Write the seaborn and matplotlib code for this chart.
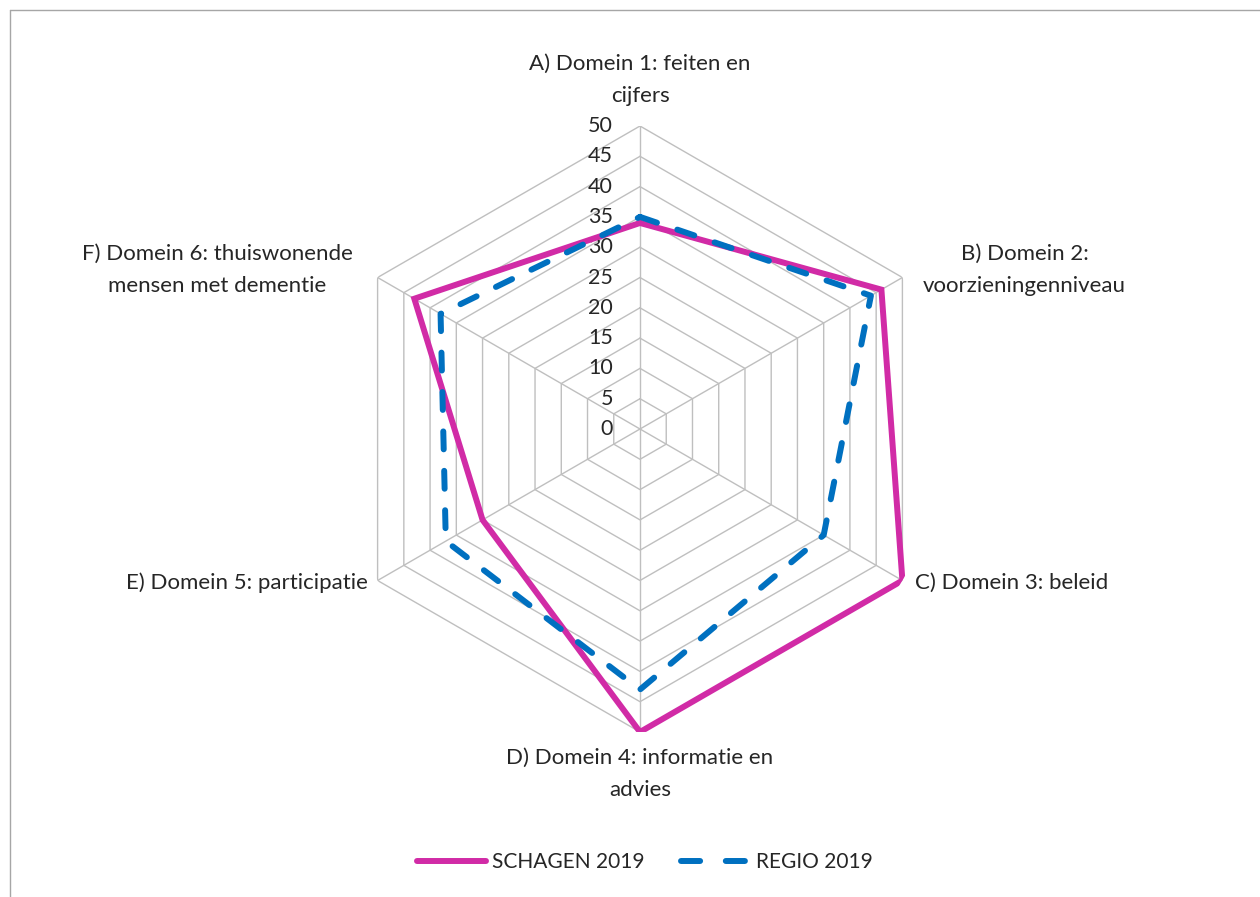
import numpy as np
import pandas as pd
import matplotlib
matplotlib.use("Agg")
import matplotlib.pyplot as plt
from matplotlib.lines import Line2D
import seaborn as sns

# ---- data ----
categories = [
    "A) Domein 1: feiten en\ncijfers",
    "B) Domein 2:\nvoorzieningenniveau",
    "C) Domein 3: beleid",
    "D) Domein 4: informatie en\nadvies",
    "E) Domein 5: participatie",
    "F) Domein 6: thuiswonende\nmensen met dementie",
]
schagen_2019 = [34, 46, 50, 50, 30, 43]
regio_2019 = [35, 44, 35, 43, 37, 38]
radial_ticks = [0, 5, 10, 15, 20, 25, 30, 35, 40, 45, 50]
series_names = ["SCHAGEN 2019", "REGIO 2019"]

PURPLE = "#D12BA6"
BLUE = "#0070C0"
GRID = "#BFBFBF"
TEXT = "#262626"

sns.set_theme(style="white")
plt.rcParams["font.family"] = ["Lato", "DejaVu Sans"]

W, H = 1260, 897
fig = plt.figure(figsize=(W / 100, H / 100), dpi=100)

# frame lines (left and top, as in reference)
fig.add_artist(Line2D([10 / W, 10 / W], [0, 1 - 10 / H], color="#A6A6A6", lw=1))
fig.add_artist(Line2D([10 / W, 1], [1 - 10 / H, 1 - 10 / H], color="#A6A6A6", lw=1))

cx, cy, R = 640, 429, 303
ax = fig.add_axes([(cx - R) / W, (H - cy - R) / H, 2 * R / W, 2 * R / H], projection="polar")
ax.set_theta_zero_location("N")
ax.set_theta_direction(-1)
ax.set_ylim(0, 50)
ax.grid(False)
ax.spines["polar"].set_visible(False)
ax.set_xticks([])
ax.set_yticks([])
ax.patch.set_alpha(0)

n = len(categories)
angles = list(np.arange(n) * 2 * np.pi / n)
closed = angles + [2 * np.pi]

# hexagonal grid
for t in radial_ticks[1:]:
    ax.plot(closed, [t] * (n + 1), color=GRID, lw=1, zorder=1)
for a in angles:
    ax.plot([a, a], [0, 50], color=GRID, lw=1, zorder=1)

# radial tick labels
for t in radial_ticks:
    ax.annotate(str(t), xy=(0, t), xytext=(-27, 0), textcoords="offset pixels",
                ha="right", va="center", fontsize=15.5, color=TEXT)

# data series
df_s = pd.DataFrame({"angle": closed, "value": schagen_2019 + [schagen_2019[0]]})
df_r = pd.DataFrame({"angle": closed, "value": regio_2019 + [regio_2019[0]]})
sns.lineplot(data=df_s, x="angle", y="value", ax=ax, sort=False, estimator=None,
             color=PURPLE, lw=4.3, label=series_names[0], zorder=3)
sns.lineplot(data=df_r, x="angle", y="value", ax=ax, sort=False, estimator=None,
             color=BLUE, lw=4.3, linestyle=(0, (3, 3.6)), label=series_names[1], zorder=4)
lines = ax.get_lines()
lines[-2].set_solid_joinstyle("miter")
lines[-1].set_dash_capstyle("round")
ax.set_xlabel("")
ax.set_ylabel("")
if ax.get_legend() is not None:
    ax.get_legend().remove()

# category labels
offsets = [
    ((0, 20), "center", "bottom"),
    ((122, 8), "center", "center"),
    ((13, -2), "left", "center"),
    ((0, -16), "center", "top"),
    ((-10, -2), "right", "center"),
    ((-160, 8), "center", "center"),
]
for a, lab, (off, ha, va) in zip(angles, categories, offsets):
    ax.annotate(lab, xy=(a, 50), xytext=off, textcoords="offset pixels",
                ha=ha, va=va, multialignment="center", fontsize=16, color=TEXT,
                linespacing=1.75, annotation_clip=False)

leg_s = Line2D([], [], color=PURPLE, lw=4.3, solid_capstyle="round")
leg_r = Line2D([], [], color=BLUE, lw=4.3, linestyle=(0, (3.2, 4.3)), dash_capstyle="round")
fig.legend([leg_s, leg_r], series_names, loc="center", bbox_to_anchor=(645 / W, 1 - 862 / H),
           ncol=2, frameon=False, fontsize=15, handlelength=3.3, handletextpad=0.3,
           columnspacing=1.75, labelcolor=TEXT)

fig.savefig("out.png", dpi=100)
